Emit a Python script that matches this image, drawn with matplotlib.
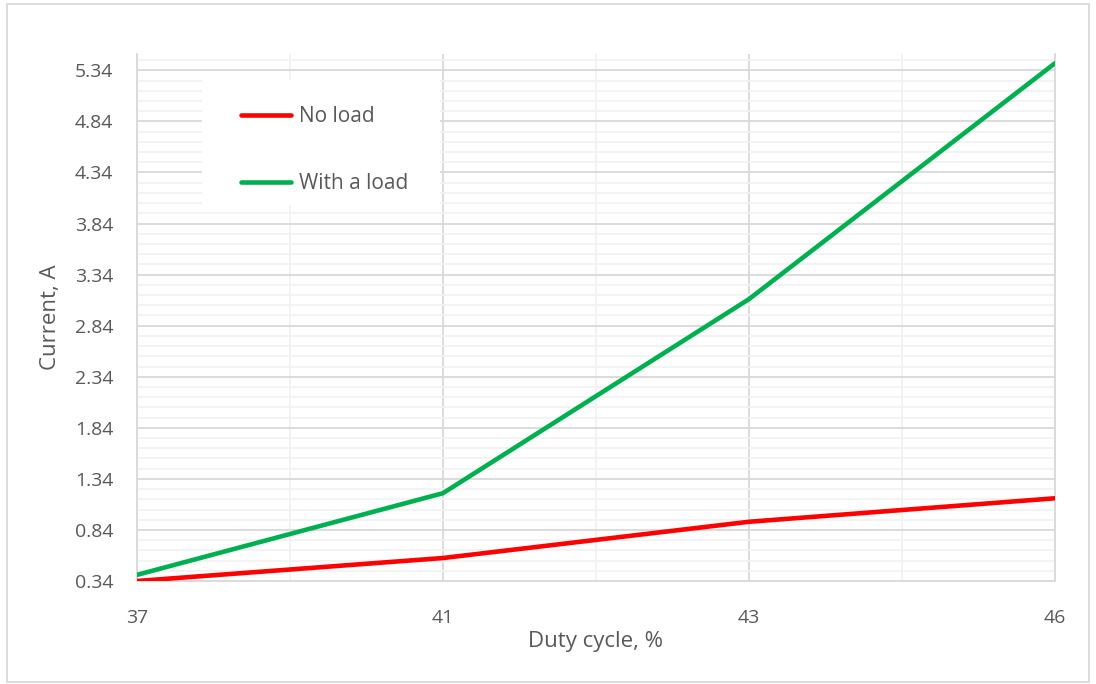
import matplotlib
matplotlib.use("Agg")
import matplotlib.pyplot as plt
from matplotlib.ticker import FixedLocator
from matplotlib.patches import Rectangle
import numpy as np

duty_cycle = ["37", "41", "43", "46"]
no_load = [0.34, 0.565, 0.92, 1.15]
with_load = [0.40, 1.20, 3.10, 5.41]
y_ticks = [0.34, 0.84, 1.34, 1.84, 2.34, 2.84, 3.34, 3.84, 4.34, 4.84, 5.34]

plt.rcParams['font.family'] = ['Open Sans', 'DejaVu Sans']
txt = '#595959'

fig = plt.figure(figsize=(10.96, 6.84), dpi=100)
W, H = 1096, 684
ax = fig.add_axes([137/W, 1-581/H, (1055-137)/W, (581-54)/H])

x = np.arange(len(duty_cycle))
ax.plot(x, no_load, color='#FF0000', lw=3.3, solid_capstyle='round', label='No load', zorder=4)
ax.plot(x, with_load, color='#00B050', lw=3.3, solid_capstyle='round', label='With a load', zorder=4)

ax.set_xlim(0, 3)
ax.set_ylim(0.34, 5.50)
ax.set_xticks(x)
ax.set_xticklabels(duty_cycle)
ax.xaxis.set_minor_locator(FixedLocator([0.5, 1.5, 2.5]))
ax.yaxis.set_major_locator(FixedLocator(y_ticks))
ax.set_yticklabels([f"{v:.2f}" for v in y_ticks])
ax.yaxis.set_minor_locator(FixedLocator([0.34 + 0.1*i for i in range(52)]))

ax.grid(which='major', color='#D9D9D9', lw=1.3, zorder=1)
ax.grid(which='minor', color='#F2F2F2', lw=1.3, zorder=0)
ax.set_axisbelow(True)
ax.tick_params(which='both', length=0)
ax.tick_params(axis='y', pad=17, labelsize=14, labelcolor=txt)
ax.tick_params(axis='x', pad=20, labelsize=14, labelcolor=txt)

ax.spines['top'].set_visible(False)
for s in ['left', 'bottom', 'right']:
    ax.spines[s].set_color('#D9D9D9')
    ax.spines[s].set_linewidth(1.3)

ax.set_xlabel('Duty cycle, %', fontsize=16, color=txt, labelpad=3)
ax.set_ylabel('Current, A', fontsize=16, color=txt, labelpad=10)

# white legend box
fig.patches.append(Rectangle((202/W, 1-205/H), 238/W, 125/H, transform=fig.transFigure,
                             facecolor='white', edgecolor='none', zorder=3))
leg = fig.legend(loc='center left', bbox_to_anchor=(222/W, 1-150/H), frameon=False,
                 fontsize=15, handlelength=2.4, handletextpad=0.38, labelspacing=2.2,
                 labelcolor=txt)
leg.set_zorder(5)

# outer border
fig.patches.append(Rectangle((7/W, 1-682/H), (1089-7)/W, (682-4)/H, transform=fig.transFigure,
                             facecolor='none', edgecolor='#D9D9D9', lw=1.3, zorder=0))

fig.savefig('out.png', dpi=100)
